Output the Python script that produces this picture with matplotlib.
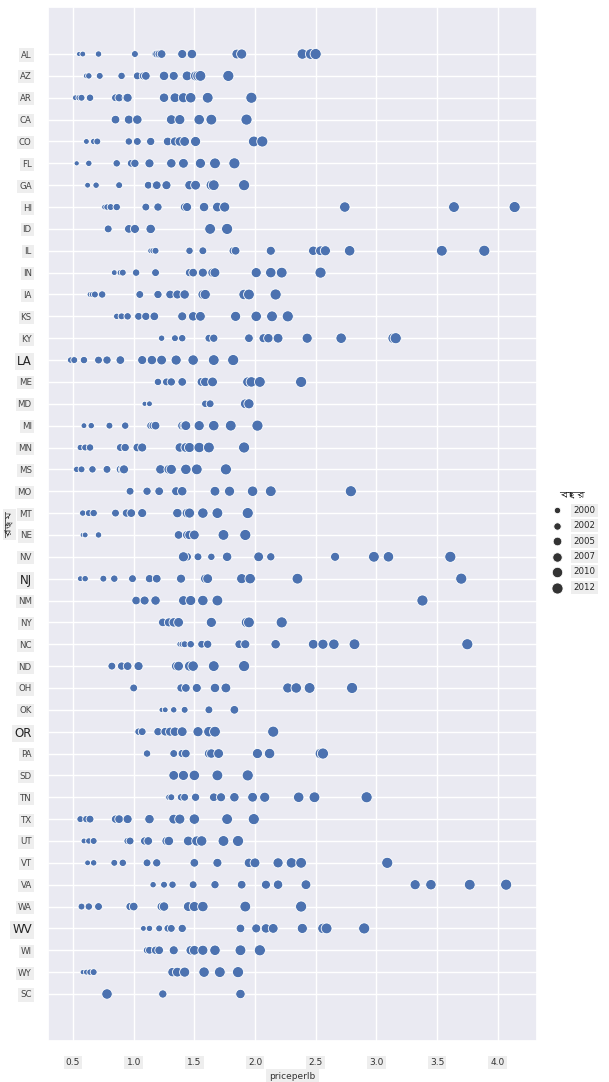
import numpy as np
import matplotlib
matplotlib.use("Agg")
import matplotlib.pyplot as plt
from matplotlib import font_manager
from matplotlib.ft2font import FT2Font
import seaborn as sns

# honey prices per state, one slot per year (None = no visible point)
YEARS = [1998, 1999, 2000, 2001, 2002, 2003, 2004, 2005,
         2006, 2007, 2008, 2009, 2010, 2011, 2012]

STATES = ["AL", "AZ", "AR", "CA", "CO", "FL", "GA", "HI", "ID", "IL", "IN",
          "IA", "KS", "KY", "LA", "ME", "MD", "MI", "MN", "MS", "MO", "MT",
          "NE", "NV", "NJ", "NM", "NY", "NC", "ND", "OH", "OK", "OR", "PA",
          "SD", "TN", "TX", "UT", "VT", "VA", "WA", "WV", "WI", "WY", "SC"]

N = None
PRICES = [
    [0.55, 0.58, 0.71, 1.01, 1.18, 1.19, 1.21, 1.23, 1.40, 1.48, 1.85, 1.89, 2.39, 2.46, 2.50],  # AL
    [N, 0.61, 0.63, 0.72, 0.90, 1.03, 1.08, 1.10, 1.33, 1.25, 1.44, 1.51, 1.53, 1.55, 1.78],     # AZ
    [N, 0.52, 0.55, 0.57, 0.64, 0.85, 0.88, 0.94, 0.95, 1.25, 1.34, 1.41, 1.47, 1.61, 1.97],     # AR
    [N, N, N, N, N, N, N, 0.85, 0.96, 1.03, 1.31, 1.38, 1.54, 1.64, 1.93],                       # CA
    [N, 0.61, 0.67, 0.70, 0.96, 1.03, 1.14, 1.28, 1.34, 1.38, 1.42, 1.51, N, 1.99, 2.06],        # CO
    [0.53, N, 0.63, N, 0.86, 0.98, 1.01, N, 1.13, 1.31, 1.41, 1.55, N, 1.67, 1.83],              # FL
    [N, 0.62, 0.69, 0.88, N, 1.12, 1.18, 1.19, 1.27, 1.46, 1.51, N, 1.64, 1.66, 1.91],           # GA
    [N, 0.76, 0.78, 0.81, 0.86, 1.10, 1.20, 1.42, 1.44, 1.58, 1.69, 1.75, 2.74, 3.64, 4.14],     # HI
    [N, N, N, N, N, 0.79, N, 0.96, 1.01, 1.14, N, N, N, 1.63, 1.77],                             # ID
    [N, 1.14, 1.16, 1.18, 1.46, 1.57, 1.82, 1.84, 2.13, 2.48, 2.54, 2.58, 2.78, 3.54, 3.89],     # IL
    [N, 0.84, 0.89, 0.91, 1.02, 1.18, 1.46, 1.49, 1.57, 1.65, 1.67, 2.01, 2.13, 2.22, 2.54],     # IN
    [N, 0.64, 0.66, 0.68, 0.74, 1.05, 1.20, 1.30, 1.36, 1.42, 1.57, 1.59, 1.91, 1.95, 2.17],     # IA
    [N, N, 0.86, 0.90, 0.95, 1.04, 1.10, 1.17, 1.40, 1.49, 1.55, 1.84, 2.01, 2.14, 2.27],        # KS
    [N, N, 1.23, 1.34, 1.40, 1.62, 1.66, 1.95, 2.07, 2.11, 2.19, 2.43, 2.71, 3.14, 3.16],        # KY
    [N, N, 0.48, 0.51, 0.59, 0.71, 0.78, 0.89, 1.07, 1.15, 1.23, 1.35, 1.49, 1.66, 1.82],        # LA
    [N, N, N, N, 1.20, 1.27, 1.31, 1.40, 1.56, 1.59, 1.65, 1.94, 1.97, 2.04, 2.38],              # ME
    [1.09, 1.13, N, N, 1.59, 1.63, N, N, N, N, 1.92, 1.95, N, N, N],                             # MD
    [N, 0.59, 0.65, 0.80, 0.93, 1.14, 1.16, 1.18, 1.40, 1.42, 1.43, 1.54, 1.66, 1.80, 2.02],     # MI
    [N, N, 0.56, 0.60, 0.64, 0.89, 0.93, 1.03, 1.07, 1.38, 1.43, 1.46, 1.54, 1.62, 1.91],        # MN
    [N, N, 0.53, 0.57, 0.66, 0.78, 0.89, 0.91, 0.92, 1.22, 1.29, 1.31, 1.43, 1.52, 1.76],        # MS
    [N, N, N, N, N, 0.97, 1.11, 1.21, 1.35, 1.40, 1.67, 1.79, 1.98, 2.13, 2.79],                 # MO
    [N, N, 0.58, 0.63, 0.67, 0.85, 0.94, 0.98, 1.07, 1.36, 1.44, 1.46, 1.57, 1.69, 1.94],        # MT
    [0.58, 0.60, 0.71, N, N, N, N, 1.37, 1.44, 1.46, 1.50, N, N, 1.74, 1.92],                    # NE
    [N, N, N, N, 1.64, 1.53, 2.13, 1.44, 2.66, 1.77, 2.03, 1.41, 3.10, 2.98, 3.61],              # NV
    [N, 0.56, 0.60, 0.75, 0.84, 0.99, 1.13, 1.19, 1.39, 1.59, 1.61, 1.89, 1.96, 2.35, 3.70],     # NJ
    [N, N, N, N, N, N, N, 1.02, 1.09, 1.18, 1.41, 1.47, 1.57, 1.69, 3.38],                       # NM
    [N, N, N, N, N, N, N, 1.24, 1.29, 1.33, 1.37, 1.64, 1.93, 1.95, 2.22],                       # NY
    [N, 1.38, 1.40, 1.42, 1.47, 1.56, 1.61, 1.87, 1.92, 2.17, 2.48, 2.56, 2.65, 2.82, 3.75],     # NC
    [N, N, N, N, N, 0.82, 0.90, 0.95, 1.04, 1.35, 1.37, 1.46, 1.49, 1.66, 1.91],                 # ND
    [N, N, N, N, N, 1.00, 1.39, 1.43, 1.52, 1.67, 1.76, 2.27, 2.34, 2.45, 2.80],                 # OH
    [1.23, 1.26, 1.33, 1.42, N, 1.62, N, 1.83, N, N, N, N, N, N, N],                             # OK
    [N, N, N, N, 1.04, 1.07, 1.20, 1.26, 1.30, 1.34, 1.40, 1.53, 1.62, 1.67, 2.15],              # OR
    [N, N, N, N, 1.11, 1.33, 1.40, 1.43, 1.62, 1.64, 1.70, 2.02, 2.12, 2.54, 2.56],              # PA
    [N, N, N, N, N, N, N, N, N, N, 1.33, 1.41, 1.50, 1.69, 1.94],                                # SD
    [N, N, 1.29, 1.31, 1.39, 1.42, 1.51, 1.66, 1.72, 1.83, 1.98, 2.08, 2.36, 2.49, 2.92],        # TN
    [N, N, N, 0.56, 0.61, 0.64, 0.85, 0.88, 0.95, 1.13, 1.33, 1.38, 1.50, 1.77, 1.99],           # TX
    [N, 0.59, 0.63, 0.67, 0.95, 0.97, 1.09, 1.12, 1.27, 1.29, 1.45, 1.52, 1.56, 1.74, 1.86],     # UT
    [N, 0.62, 0.67, 0.84, 0.91, 1.11, 1.19, 1.50, 1.69, 1.95, 2.00, 2.19, 2.30, 2.38, 3.09],     # VT
    [N, N, 1.16, 1.25, 1.32, 1.49, 1.67, 1.89, 2.09, 2.19, 2.42, 3.32, 3.45, 3.77, 4.07],        # VA
    [N, N, N, 0.57, 0.63, 0.71, 0.97, 1.00, 1.23, 1.25, 1.45, 1.50, 1.57, 1.92, 2.38],           # WA
    [N, 1.08, 1.13, 1.21, 1.28, 1.31, 1.40, 1.88, 2.01, 2.09, 2.15, 2.39, 2.56, 2.59, 2.90],     # WV
    [N, N, N, N, 1.11, 1.13, 1.18, 1.21, 1.33, 1.47, 1.50, 1.57, 1.67, 1.88, 2.04],              # WI
    [0.58, 0.61, 0.64, 0.67, N, N, N, N, N, 1.32, 1.36, 1.42, 1.58, 1.71, 1.86],                 # WY
    [N, N, N, N, N, N, 1.24, N, N, 1.88, N, N, 0.78, N, N],                                      # SC
]

LEGEND_YEARS = [2000, 2002, 2005, 2007, 2010, 2012]
BIG_LABELS = ["LA", "NJ", "OR", "WV"]
X_TICKS = [0.5, 1.0, 1.5, 2.0, 2.5, 3.0, 3.5, 4.0]


def find_bengali_font():
    """Return a family name that has Bengali glyphs, if any is installed."""
    for f in font_manager.fontManager.ttflist:
        try:
            if 0x09AC in FT2Font(f.fname).get_charmap():
                return f.name
        except Exception:
            continue
    return "DejaVu Sans"


sns.set_theme(style="darkgrid")
bn_font = find_bengali_font()
plt.rcParams['font.family'] = ['DejaVu Sans', bn_font]

s_min, s_max = 14, 64
y0, y1 = min(YEARS), max(YEARS)


def year_size(yr):
    return s_min + (yr - y0) / (y1 - y0) * (s_max - s_min)


xs, ys, ss = [], [], []
for state, row in zip(STATES, PRICES):
    for yr, p in zip(YEARS, row):
        if p is None:
            continue
        xs.append(p)
        ys.append(state)
        ss.append(year_size(yr))

fig = plt.figure(figsize=(6.09, 10.82), dpi=100)
ax = fig.add_axes([0.0795, 0.0379, 0.802, 0.9556])
ax.scatter(xs, ys, s=ss, color="#4c72b0", edgecolors="white", linewidths=0.6)
ax.invert_yaxis()

ax.set_xticks(X_TICKS)
ax.set_xticklabels([f"{t:.1f}" for t in X_TICKS])
box = dict(facecolor="#eeeeee", edgecolor="none", pad=1.5)
for lab in ax.get_xticklabels():
    lab.set_fontsize(6.5)
    lab.set_color("#333333")
    lab.set_bbox(box)
for lab in ax.get_yticklabels():
    big = lab.get_text() in BIG_LABELS
    lab.set_fontsize(8.5 if big else 6.2)
    lab.set_color("#222222" if big else "#444444")
    lab.set_bbox(box)
ax.tick_params(axis="both", pad=6)

ax.set_xlabel("priceperlb", fontsize=6.5, color="#333333",
              bbox=dict(facecolor="#eeeeee", edgecolor="none", pad=2.5))
fig.text(0.016, 0.515, "রাজ্য", rotation=90, ha="center", va="center",
         fontsize=6.5, color="#333333",
         bbox=dict(facecolor="#eeeeee", edgecolor="none", pad=1.5))

handles = [ax.scatter([], [], s=year_size(y), color="#333333",
                      edgecolors="white", linewidths=0.6) for y in LEGEND_YEARS]
leg = fig.legend(handles, [str(y) for y in LEGEND_YEARS], title="বছর",
                 loc="center left", bbox_to_anchor=(0.888, 0.5),
                 frameon=False, fontsize=6.2, title_fontsize=6.2,
                 labelspacing=0.75, handletextpad=0.9)
for t in leg.get_texts():
    t.set_bbox(box)

fig.savefig("out.png", dpi=100)
